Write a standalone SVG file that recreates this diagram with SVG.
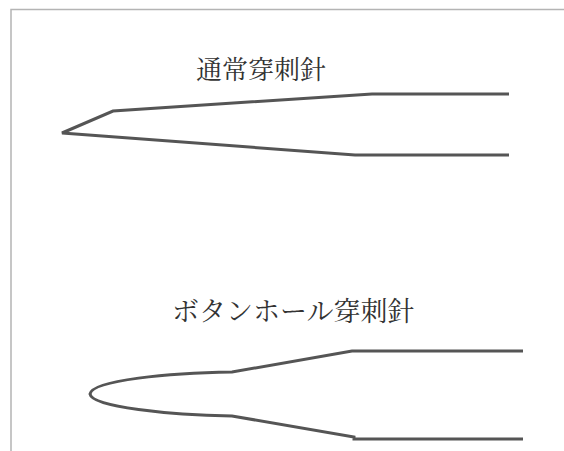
<svg xmlns="http://www.w3.org/2000/svg" width="564" height="451" viewBox="0 0 564 451">
  <style>
    .frame { fill: none; stroke: #b4b4b4; stroke-width: 1.5; }
    .needle { fill: none; stroke: #555555; stroke-width: 3; stroke-linejoin: miter; stroke-linecap: butt; }
    .label { font-family: "Liberation Serif", "Noto Serif CJK JP", "Noto Sans CJK JP", serif; fill: #333333; }
  </style>
  <rect width="564" height="451" fill="#ffffff"/>
  <!-- page frame: top and left edges -->
  <path class="frame" d="M11,451 V9.5 H564"/>

  <!-- regular puncture needle -->
  <g id="regular-needle">
    <text class="label" x="196" y="79" font-size="26">通常穿刺針</text>
    <polyline class="needle" points="509,94 372,94 113,111 62,133 355,155 509,155"/>
  </g>

  <!-- buttonhole puncture needle (blunt rounded tip) -->
  <g id="buttonhole-needle">
    <text class="label" x="172" y="321" font-size="27">ボタンホール穿刺針</text>
    <path class="needle" d="M523,351 H352 L232,372 C170,373 92,380 90,394 C92,407 170,415 232,416 L354,437 L354,439 H523"/>
  </g>
</svg>
